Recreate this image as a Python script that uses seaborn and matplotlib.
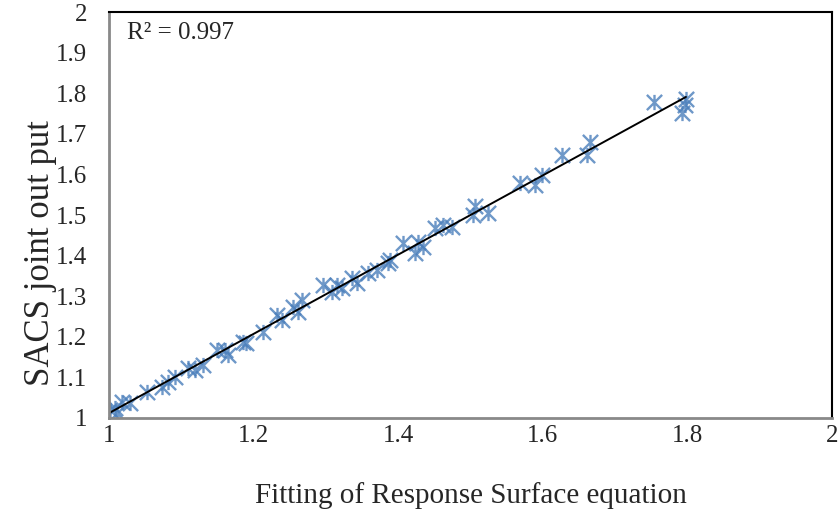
import matplotlib
matplotlib.use("Agg")
import matplotlib.pyplot as plt
import seaborn as sns
import numpy as np
from matplotlib.path import Path

x_fit = [1.001, 1.008, 1.011, 1.018, 1.029, 1.052, 1.073, 1.082, 1.091, 1.109,
         1.119, 1.130, 1.149, 1.160, 1.165, 1.185, 1.190, 1.213, 1.232, 1.239,
         1.255, 1.262, 1.267, 1.296, 1.308, 1.315, 1.322, 1.336, 1.343, 1.358,
         1.371, 1.386, 1.389, 1.407, 1.423, 1.427, 1.434, 1.451, 1.462, 1.474,
         1.503, 1.506, 1.524, 1.568, 1.589, 1.599, 1.627, 1.661, 1.665, 1.754,
         1.793, 1.796, 1.798]
y_sacs = [1.020, 1.025, 1.012, 1.040, 1.037, 1.064, 1.076, 1.089, 1.101, 1.123,
          1.118, 1.130, 1.167, 1.167, 1.155, 1.187, 1.185, 1.212, 1.254, 1.241,
          1.273, 1.261, 1.290, 1.328, 1.310, 1.328, 1.320, 1.345, 1.333, 1.357,
          1.365, 1.382, 1.389, 1.431, 1.406, 1.433, 1.421, 1.468, 1.476, 1.470,
          1.500, 1.522, 1.505, 1.579, 1.574, 1.599, 1.648, 1.648, 1.680, 1.778,
          1.751, 1.772, 1.785]
r2_label = "R² = 0.997"
x_label = "Fitting of Response Surface equation"
y_label = "SACS joint out put"
x_ticks = [1, 1.2, 1.4, 1.6, 1.8, 2]
x_tick_labels = ["1", "1.2", "1.4", "1.6", "1.8", "2"]
y_ticks = [1, 1.1, 1.2, 1.3, 1.4, 1.5, 1.6, 1.7, 1.8, 1.9, 2]
y_tick_labels = ["1", "1.1", "1.2", "1.3", "1.4", "1.5", "1.6", "1.7", "1.8", "1.9", "2"]

sns.set_style("white")
plt.rcParams['font.family'] = ['Liberation Serif', 'DejaVu Serif']

star = Path([(0, -1), (0, 1), (-1, -1), (1, 1), (-1, 1), (1, -1)],
            [Path.MOVETO, Path.LINETO, Path.MOVETO, Path.LINETO, Path.MOVETO, Path.LINETO])

fig = plt.figure(figsize=(8.4, 5.17), dpi=100)
ax = fig.add_axes([109/840, 99/517, 723/840, 406/517])

blue = "#4A7EBB"
sns.regplot(x=np.array(x_fit), y=np.array(y_sacs), ax=ax, ci=None, truncate=True,
            marker=star,
            scatter_kws=dict(s=120, color=blue, linewidths=1.7, facecolors=blue, edgecolors=blue),
            line_kws=dict(color="black", lw=1.4))

ax.set_xlim(1, 2)
ax.set_ylim(1, 2)
ax.set_xticks(x_ticks)
ax.set_xticklabels(x_tick_labels)
ax.set_yticks(y_ticks)
ax.set_yticklabels(y_tick_labels)
ax.tick_params(axis='both', which='both', direction='out', length=3.6, width=1.5,
               color="#898989", labelsize=18)
ax.tick_params(axis='x', pad=1.5)
ax.tick_params(axis='y', pad=12)
ax.set_xlabel(x_label, fontsize=21, va='center')
ax.set_ylabel(y_label, fontsize=25, va='center')
ax.xaxis.set_label_coords(0.5007, -0.19)
ax.yaxis.set_label_coords(-0.0954, 0.406)

for side in ['left', 'bottom']:
    ax.spines[side].set_color("#898989")
    ax.spines[side].set_linewidth(2)
for side in ['top', 'right']:
    ax.spines[side].set_color("black")
    ax.spines[side].set_linewidth(1.5)
    ax.spines[side].set_visible(True)

ax.text(0.025, 0.975, r2_label, transform=ax.transAxes, fontsize=18,
        ha='left', va='top')

fig.savefig("out.png", dpi=100)
